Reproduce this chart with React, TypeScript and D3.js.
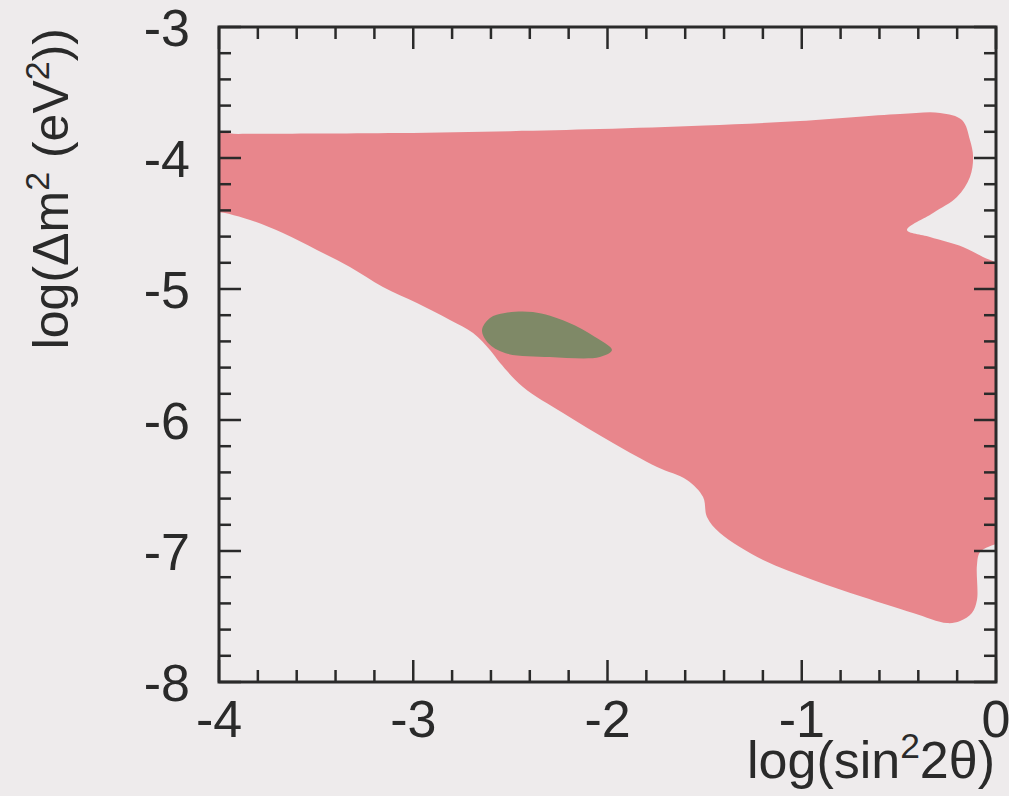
import React from "react";
import * as d3 from "d3";

// Allowed region (pink) boundary, in data coordinates (log sin^2 2θ, log Δm²)
const pinkX = [
  -4.03, -3.9, -3.5, -3.068, -2.5, -2.039, -1.5, -1.009, -0.494, -0.288, -0.175, -0.134, -0.118,
  -0.134, -0.201, -0.324, -0.458, -0.34, -0.17, -0.067, 0.02, 0.02, 0.02, 0.02, -0.015, -0.082,
  -0.098, -0.098, -0.124, -0.185, -0.252, -0.427, -0.685, -0.942, -1.199, -1.421, -1.488, -1.508,
  -1.591, -1.745, -1.972, -2.229, -2.435, -2.553, -2.605, -2.692, -2.811, -2.981, -3.156, -3.326,
  -3.496, -3.671, -3.84, -3.95, -4.03, -4.03,
];
const pinkY = [
  -3.817, -3.816, -3.813, -3.809, -3.795, -3.779, -3.752, -3.718, -3.664, -3.656, -3.71, -3.863,
  -3.992, -4.145, -4.298, -4.42, -4.55, -4.603, -4.679, -4.756, -4.832, -5.5, -6.3, -6.939, -6.954,
  -7.008, -7.107, -7.374, -7.473, -7.534, -7.55, -7.473, -7.351, -7.221, -7.069, -6.863, -6.74,
  -6.588, -6.458, -6.359, -6.176, -5.947, -5.748, -5.565, -5.466, -5.336, -5.237, -5.107, -4.985,
  -4.832, -4.702, -4.573, -4.473, -4.425, -4.39, -4.1,
];

// Small green region
const greenX = [-2.646, -2.605, -2.528, -2.384, -2.208, -2.064, -1.977, -2.039, -2.296, -2.528, -2.615];
const greenY = [-5.313, -5.221, -5.183, -5.176, -5.252, -5.366, -5.466, -5.519, -5.519, -5.489, -5.412];

const xMajor = [-4, -3, -2, -1, 0];
const yMajor = [-8, -7, -6, -5, -4, -3];
const xTickLabels = ["-4", "-3", "-2", "-1", "0"];
const yTickLabels = ["-8", "-7", "-6", "-5", "-4", "-3"];

const W = 1009;
const H = 796;
const left = 219;
const right = 996;
const top = 27;
const bottom = 682;

const BG = "#eeebec";
const PINK = "#e8868c";
const GREEN = "#7f8967";
const INK = "#2a2a2a";
const FONT = "'Liberation Sans', Arial, Helvetica, sans-serif";
const FS = 52;

export default function App() {
  const x = d3.scaleLinear().domain([-4, 0]).range([left, right]);
  const y = d3.scaleLinear().domain([-8, -3]).range([bottom, top]);

  const area = d3
    .line<number>()
    .x((i) => x(pinkX[i]))
    .y((i) => y(pinkY[i]))
    .curve(d3.curveCatmullRomClosed.alpha(0.5));
  const pinkPath = area(pinkX.map((_, i) => i)) || "";

  const blob = d3
    .line<number>()
    .x((i) => x(greenX[i]))
    .y((i) => y(greenY[i]))
    .curve(d3.curveCatmullRomClosed.alpha(0.5));
  const greenPath = blob(greenX.map((_, i) => i)) || "";

  const xMinor = d3.range(-4, 0.0001, 0.2).map((v) => Math.round(v * 10) / 10);
  const yMinor = d3.range(-8, -2.9999, 0.2).map((v) => Math.round(v * 10) / 10);
  const isMajor = (v: number) => Math.abs(v - Math.round(v)) < 1e-6;
  const MAJ = 22;
  const MIN = 12;

  return (
    <svg
      width={W}
      height={H}
      style={{ position: "absolute", left: 0, top: 0, display: "block" }}
      fontFamily={FONT}
    >
      <rect x={0} y={0} width={W} height={H} fill={BG} />
      <defs>
        <clipPath id="plotClip">
          <rect x={left} y={top} width={right - left} height={bottom - top} />
        </clipPath>
      </defs>
      <g clipPath="url(#plotClip)">
        <path d={pinkPath} fill={PINK} />
        <path d={greenPath} fill={GREEN} />
      </g>

      {/* ticks */}
      <g stroke={INK} strokeWidth={2.5}>
        {xMinor.map((v) => {
          const len = isMajor(v) ? MAJ : MIN;
          return (
            <g key={"xt" + v}>
              <line x1={x(v)} x2={x(v)} y1={bottom} y2={bottom - len} />
              <line x1={x(v)} x2={x(v)} y1={top} y2={top + len} />
            </g>
          );
        })}
        {yMinor.map((v) => {
          const len = isMajor(v) ? MAJ : MIN;
          return (
            <g key={"yt" + v}>
              <line x1={left} x2={left + len} y1={y(v)} y2={y(v)} />
              <line x1={right} x2={right - len} y1={y(v)} y2={y(v)} />
            </g>
          );
        })}
      </g>
      <rect
        x={left}
        y={top}
        width={right - left}
        height={bottom - top}
        fill="none"
        stroke={INK}
        strokeWidth={3}
      />

      {/* tick labels */}
      <g fill={INK} fontSize={FS}>
        {xMajor.map((v, i) => (
          <text key={"xl" + v} x={x(v)} y={737} textAnchor="middle">
            {xTickLabels[i]}
          </text>
        ))}
        {yMajor.map((v, i) => (
          <text key={"yl" + v} x={190} y={y(v)} dy="0.36em" textAnchor="end">
            {yTickLabels[i]}
          </text>
        ))}
      </g>

      {/* axis titles */}
      <text x={995} y={778} textAnchor="end" fontSize={FS} fill={INK}>
        log(sin
        <tspan fontSize={FS * 0.68} dy={-20}>
          2
        </tspan>
        <tspan dy={20}>2θ)</tspan>
      </text>
      <text
        transform="translate(68,28) rotate(-90)"
        textAnchor="end"
        fontSize={50}
        fill={INK}
      >
        log(Δm
        <tspan fontSize={34} dy={-19}>
          2
        </tspan>
        <tspan dy={19}> (eV</tspan>
        <tspan fontSize={34} dy={-19}>
          2
        </tspan>
        <tspan dy={19}>))</tspan>
      </text>
    </svg>
  );
}
